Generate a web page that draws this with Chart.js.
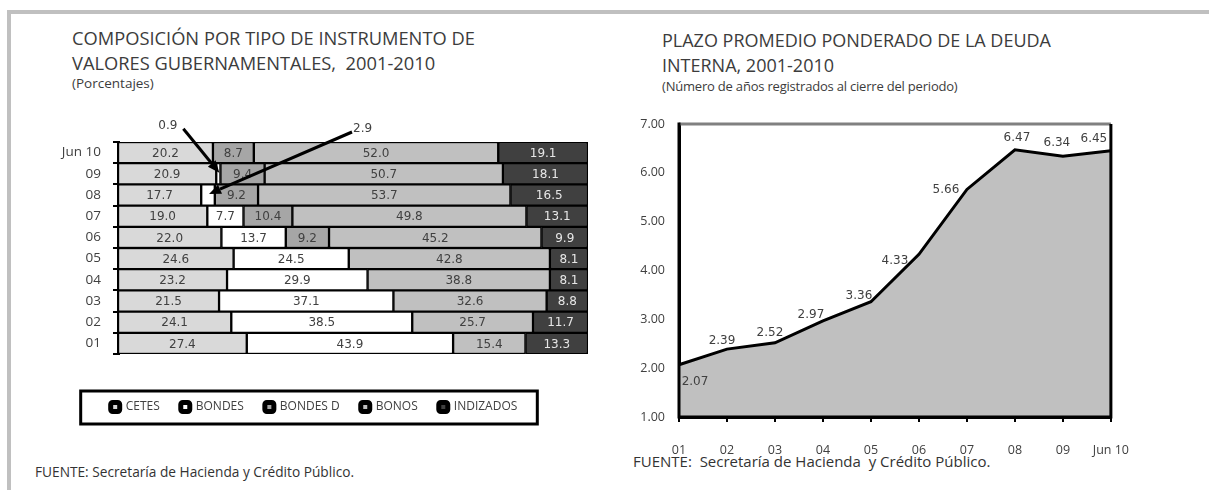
<!DOCTYPE html>
<html><head><meta charset="utf-8">
<script src="https://cdn.jsdelivr.net/npm/chart.js@4.4.1/dist/chart.umd.min.js"></script>
<style>
html,body{margin:0;padding:0;background:#fff;}
body{width:1209px;height:490px;position:relative;overflow:hidden;font-family:'Open Sans',sans-serif;color:#333;}
.frame{position:absolute;left:7px;top:10px;right:-10px;bottom:-10px;border-top:4px solid #c0c0c0;border-left:4px solid #c0c0c0;}
.t{position:absolute;white-space:nowrap;font-weight:400;}
.title{font-size:18.3px;line-height:25px;color:#3c3c3c;}
.sub{font-size:13.5px;line-height:18px;color:#3c3c3c;}
.src{font-size:13.7px;line-height:16px;color:#333;}
canvas{position:absolute;}
</style>
</head><body>
<div class="frame"></div>
<div class="t title" style="left:72px;top:25px;">COMPOSICIÓN POR TIPO DE INSTRUMENTO DE<br>VALORES GUBERNAMENTALES,&nbsp; 2001-2010</div>
<div class="t sub" style="left:72px;top:74px;">(Porcentajes)</div>
<div class="t title" style="left:662px;top:28px;font-size:18px;">PLAZO PROMEDIO PONDERADO DE LA DEUDA<br>INTERNA, 2001-2010</div>
<div class="t sub" style="left:662px;top:77px;font-size:13px;letter-spacing:-0.2px;">(Número de años registrados al cierre del periodo)</div>
<div class="t src" style="left:35px;top:464px;">FUENTE: Secretaría de Hacienda y Crédito Público.</div>
<div class="t src" style="left:633px;top:453px;font-size:15px;">FUENTE:&nbsp; Secretaría de Hacienda&nbsp; y Crédito Público.</div>
<canvas id="left" width="560" height="335" style="left:40px;top:100px;"></canvas>
<canvas id="right" width="530" height="370" style="left:620px;top:100px;"></canvas>
<script>
// ---- data ----
const categories = ['01','02','03','04','05','06','07','08','09','Jun 10'];
const seriesNames = ['CETES','BONDES','BONDES D','BONOS','INDIZADOS'];
const cetes     = [27.4,24.1,21.5,23.2,24.6,22.0,19.0,17.7,20.9,20.2];
const bondes    = [43.9,38.5,37.1,29.9,24.5,13.7,7.7,2.9,0.9,0];
const bondesD   = [0,0,0,0,0,9.2,10.4,9.2,9.4,8.7];
const bonos     = [15.4,25.7,32.6,38.8,42.8,45.2,49.8,53.7,50.7,52.0];
const indizados = [13.3,11.7,8.8,8.1,8.1,9.9,13.1,16.5,18.1,19.1];
const plazo     = [2.07,2.39,2.52,2.97,3.36,4.33,5.66,6.47,6.34,6.45];
const plazoMin = 1, plazoMax = 7, plazoStep = 1;

// ---- styles ----
const seriesColors = ['#d9d9d9','#ffffff','#a6a6a6','#c0c0c0','#404040'];
const labelColors  = ['#404040','#404040','#404040','#404040','#e6e6e6'];
const arrowNotes = [ // dataset index, category, pixel offset of arrow tail, text side
  {ds:1, cat:'09', dx:-36, dy:-44, side:'left'},
  {ds:1, cat:'08', dx:143, dy:-62, side:'right'}
];
const pointLabelOffsets = [[16,17],[-5,-8],[-5,-10],[-12,-6],[-12,-6],[-24,6],[-21,0],[2,-12],[-6,-13],[-17,-12]];

Chart.defaults.font.family = "'Open Sans', sans-serif";

const valueLabelPlugin = {
  id:'valueLabels',
  afterDatasetsDraw(chart){
    const ctx = chart.ctx;
    ctx.save();
    ctx.font = "12px 'DejaVu Sans'";
    ctx.textAlign = 'center';
    ctx.textBaseline = 'middle';
    chart.data.datasets.forEach((ds,i)=>{
      const meta = chart.getDatasetMeta(i);
      meta.data.forEach((el,j)=>{
        const v = ds.data[j];
        if (v < 5) return;
        const p = el.getProps(['x','y','base'], true);
        ctx.fillStyle = labelColors[i];
        ctx.fillText(v.toFixed(1), (p.x + p.base)/2, p.y + 1);
      });
    });
    ctx.restore();
  }
};

const arrowPlugin = {
  id:'arrows',
  afterDatasetsDraw(chart){
    const ctx = chart.ctx;
    ctx.save();
    arrowNotes.forEach(n=>{
      const j = categories.indexOf(n.cat);
      const el = chart.getDatasetMeta(n.ds).data[j];
      const p = el.getProps(['x','y','base'], true);
      const tx = (p.x + p.base)/2 + 1, ty = p.y - 1;
      const sx = tx + n.dx, sy = ty + n.dy;
      const ang = Math.atan2(ty - sy, tx - sx);
      const hl = 12, hw = 5;
      const bx = tx - hl*Math.cos(ang), by = ty - hl*Math.sin(ang);
      ctx.strokeStyle = '#000'; ctx.fillStyle = '#000'; ctx.lineWidth = 3;
      ctx.beginPath(); ctx.moveTo(sx, sy); ctx.lineTo(bx, by); ctx.stroke();
      ctx.beginPath();
      ctx.moveTo(tx, ty);
      ctx.lineTo(bx + hw*Math.sin(ang), by - hw*Math.cos(ang));
      ctx.lineTo(bx - hw*Math.sin(ang), by + hw*Math.cos(ang));
      ctx.closePath(); ctx.fill();
      ctx.font = "12px 'DejaVu Sans'";
      ctx.fillStyle = '#404040';
      ctx.textBaseline = 'middle';
      const val = chart.data.datasets[n.ds].data[j].toFixed(1);
      if (n.side === 'left') { ctx.textAlign = 'right'; ctx.fillText(val, sx - 6, sy - 3); }
      else { ctx.textAlign = 'left'; ctx.fillText(val, sx + 1, sy - 3); }
    });
    ctx.restore();
  }
};

const legendBoxPlugin = {
  id:'legendBox',
  afterDraw(chart){
    const hb = chart.legend.legendHitBoxes;
    if (!hb || !hb.length) return;
    let l = Infinity, r = -Infinity;
    hb.forEach(h=>{ l = Math.min(l, h.left); r = Math.max(r, h.left + h.width); });
    const top = hb[0].top - 10, bot = hb[0].top + hb[0].height + 11;
    const ctx = chart.ctx;
    ctx.save();
    ctx.strokeStyle = '#000'; ctx.lineWidth = 3;
    ctx.strokeRect(l - 30, top, (r + 20) - (l - 30), bot - top);
    ctx.restore();
  }
};

const barData = [cetes, bondes, bondesD, bonos, indizados];
new Chart(document.getElementById('left'), {
  type:'bar',
  data:{
    labels: categories,
    datasets: barData.map((d,i)=>({
      label: seriesNames[i], data: d,
      backgroundColor: seriesColors[i], borderColor:'#000', borderWidth:1.5,
      borderSkipped:false, categoryPercentage:1, barPercentage:1
    }))
  },
  options:{
    responsive:false, animation:false, devicePixelRatio:1,
    indexAxis:'y',
    layout:{padding:{top:42,right:12,left:0,bottom:12}},
    scales:{
      x:{stacked:true, min:0, max:100, grid:{display:false}, ticks:{display:false}, border:{display:false},
         afterFit(s){ s.height = 26; }},
      y:{stacked:true, reverse:true,
         grid:{display:true, drawOnChartArea:false, drawTicks:true, tickLength:5, color:'#000', lineWidth:2, offset:true},
         border:{display:true, color:'#000', width:3},
         ticks:{font:{size:13.5}, color:'#404040', padding:12},
         afterFit(s){ s.width = 78; }}
    },
    plugins:{
      tooltip:{enabled:false},
      legend:{position:'bottom',
        labels:{boxWidth:9, boxHeight:9, padding:21, font:{size:12}, color:'#404040', useBorderRadius:true, borderRadius:2,
          generateLabels(chart){
            return chart.data.datasets.map((ds,i)=>({text:ds.label, fillStyle:ds.backgroundColor, strokeStyle:'#000', lineWidth:5, datasetIndex:i, hidden:false, fontColor:'#404040', borderRadius:2}));
          }}}
    }
  },
  plugins:[valueLabelPlugin, arrowPlugin, legendBoxPlugin]
});

const pointLabelPlugin = {
  id:'pointLabels',
  afterDatasetsDraw(chart){
    const ctx = chart.ctx, a = chart.chartArea;
    ctx.save();
    ctx.lineWidth = 3;
    ctx.strokeStyle = '#808080';
    ctx.beginPath(); ctx.moveTo(a.left, a.top); ctx.lineTo(a.right, a.top); ctx.stroke();
    ctx.strokeStyle = '#000';
    ctx.beginPath(); ctx.moveTo(a.right, a.top); ctx.lineTo(a.right, a.bottom); ctx.lineTo(a.left, a.bottom); ctx.lineTo(a.left, a.top - 1.5); ctx.stroke();
    ctx.font = "12px 'DejaVu Sans'";
    ctx.textAlign = 'center'; ctx.textBaseline = 'middle'; ctx.fillStyle = '#404040';
    const meta = chart.getDatasetMeta(0);
    meta.data.forEach((el,j)=>{
      const o = pointLabelOffsets[j];
      ctx.fillText(plazo[j].toFixed(2), el.x + o[0], el.y + o[1]);
    });
    ctx.restore();
  }
};

new Chart(document.getElementById('right'), {
  type:'line',
  data:{labels: categories, datasets:[{data: plazo, fill:'start', backgroundColor:'#c0c0c0', borderColor:'#000', borderWidth:3, pointRadius:0, tension:0}]},
  options:{
    responsive:false, animation:false, devicePixelRatio:1,
    layout:{padding:{top:24,right:29,bottom:8,left:0}},
    scales:{
      x:{offset:false,
         grid:{display:true, drawOnChartArea:false, drawTicks:true, tickLength:5, color:'#000', lineWidth:2},
         border:{display:true, color:'#000', width:3},
         ticks:{padding:21, font:{size:12.5}, color:'#404040', maxRotation:0, autoSkip:false},
         afterFit(s){ s.height = 45; }},
      y:{min:plazoMin, max:plazoMax,
         ticks:{stepSize:plazoStep, callback:v=>Number(v).toFixed(2), padding:14, font:{size:12.5}, color:'#404040'},
         grid:{display:false, drawTicks:false},
         border:{display:true, color:'#000', width:3},
         afterFit(s){ s.width = 59; }}
    },
    plugins:{legend:{display:false}, tooltip:{enabled:false}}
  },
  plugins:[pointLabelPlugin]
});
</script>
</body></html>
